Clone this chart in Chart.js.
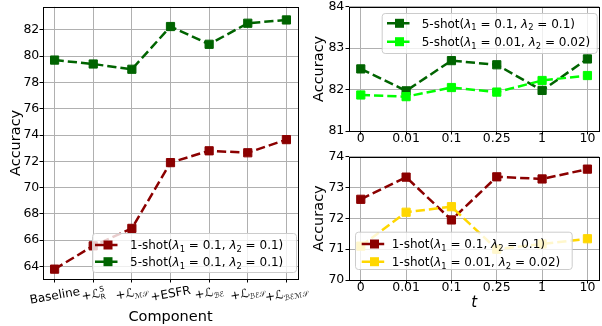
<!DOCTYPE html>
<html>
<head>
<meta charset="utf-8">
<script src="https://cdn.jsdelivr.net/npm/chart.js@4.4.1/dist/chart.umd.min.js"></script>
<style>
  html, body { margin: 0; padding: 0; background: #fff; overflow: hidden; width: 602px; height: 326px; }
  .panel { position: absolute; }
</style>
</head>
<body>
<div class="panel" style="left:0;top:0;width:320px;height:326px"><canvas id="leftChart" width="320" height="326"></canvas></div>
<div class="panel" style="left:300px;top:0;width:306px;height:150px"><canvas id="topChart" width="306" height="150"></canvas></div>
<div class="panel" style="left:300px;top:150px;width:306px;height:176px"><canvas id="bottomChart" width="306" height="176"></canvas></div>
<script>
// components (left panel)
const components = ['Baseline', '+ℒ_{R}^{S}', '+ℒ_{ℳ𝒮}', '+ESFR', '+ℒ_{ℬℰ}', '+ℒ_{ℬℰ𝒮}', '+ℒ_{ℬℰℳ𝒮}'];
const oneShot = [63.8, 65.57, 66.9, 71.9, 72.8, 72.65, 73.65];
const fiveShot = [79.7, 79.4, 79.0, 82.25, 80.9, 82.5, 82.75];

// temperature t (right panels)
const tLabels = ['0', '0.01', '0.1', '0.25', '1', '10'];
const fiveShotA = [82.5, 81.97, 82.7, 82.6, 81.98, 82.74];
const fiveShotB = [81.87, 81.83, 82.05, 81.94, 82.22, 82.34];
const oneShotA = [72.62, 73.34, 71.95, 73.35, 73.28, 73.6];
const oneShotB = [71.1, 72.2, 72.38, 71.0, 71.17, 71.34];

const seriesNames = {
  oneShot: '1-shot(λ1 = 0.1, λ2 = 0.1)',
  fiveShot: '5-shot(λ1 = 0.1, λ2 = 0.1)',
  fiveShotA: '5-shot(λ1 = 0.1, λ2 = 0.1)',
  fiveShotB: '5-shot(λ1 = 0.01, λ2 = 0.02)',
  oneShotA: '1-shot(λ1 = 0.1, λ2 = 0.1)',
  oneShotB: '1-shot(λ1 = 0.01, λ2 = 0.02)'
};

const DARKRED = '#8b0000', DARKGREEN = '#006400', LIME = '#00ff00', GOLD = '#ffd700';

Chart.defaults.font.family = '"DejaVu Sans"';
Chart.defaults.color = '#000';

// --- small rich-text helper: λ italic, _{..} subscript, ^{..} superscript
function parseRich(str, size, sub) {
  const segs = [];
  let plain = '';
  const flush = () => { if (plain) { segs.push({t: plain, size, dy: 0}); plain = ''; } };
  for (let i = 0; i < str.length;) {
    const c = str[i];
    if ((c === '_' || c === '^') && str[i + 1] === '{') {
      flush();
      const j = str.indexOf('}', i);
      segs.push({t: str.slice(i + 2, j), size: size * sub, dy: c === '_' ? size * 0.2 : -size * 0.45, kind: c});
      i = j + 1;
    } else if (c === 'λ') {
      flush();
      segs.push({t: c, size, dy: 0, italic: true});
      i++;
      if (/[0-9]/.test(str[i] || '')) { segs.push({t: str[i], size: size * sub, dy: size * 0.2, kind: '_'}); i++; }
    } else { plain += c; i++; }
  }
  flush();
  return segs;
}
const fontOf = s => (s.italic ? 'italic ' : '') + s.size + 'px "DejaVu Sans"';

function layoutRich(ctx, str, size, sub) {
  const segs = parseRich(str, size, sub || 0.7);
  let x = 0, subEnd = 0, asc = 0, desc = 0;
  segs.forEach((s, k) => {
    ctx.font = fontOf(s);
    const m = ctx.measureText(s.t);
    if (s.kind === '^' && k > 0 && segs[k - 1].kind === '_') {
      s.x = segs[k - 1].x;
      x = Math.max(subEnd, s.x + m.width);
    } else {
      s.x = x;
      x += m.width;
    }
    if (s.kind === '_') subEnd = s.x + m.width;
    asc = Math.max(asc, m.actualBoundingBoxAscent - s.dy);
    desc = Math.max(desc, m.actualBoundingBoxDescent + s.dy);
  });
  return {segs, width: x, asc, desc};
}

function drawRich(ctx, lay, x, y) {
  lay.segs.forEach(s => {
    ctx.font = fontOf(s);
    ctx.fillText(s.t, x + s.x, y + s.dy);
  });
}

// frame around the plot area (spines)
const framePlugin = {
  id: 'frame',
  afterDatasetsDraw(chart) {
    const {ctx, chartArea: a} = chart;
    ctx.save();
    ctx.strokeStyle = '#000';
    ctx.lineWidth = 1;
    ctx.strokeRect(Math.round(a.left) + 0.5, Math.round(a.top) + 0.5, Math.round(a.right - a.left), Math.round(a.bottom - a.top));
    ctx.restore();
  }
};

// legend drawn inside the plot area
const boxLegendPlugin = {
  id: 'boxLegend',
  afterDraw(chart, args, o) {
    if (!o.items) return;
    const {ctx} = chart;
    ctx.save();
    ctx.beginPath();
    ctx.roundRect(o.box[0] + 0.5, o.box[1] + 0.5, o.box[2], o.box[3], 3);
    ctx.fillStyle = 'rgba(255,255,255,0.8)';
    ctx.fill();
    ctx.strokeStyle = '#cccccc';
    ctx.lineWidth = 1;
    ctx.stroke();
    o.items.forEach((it, k) => {
      const y = o.rows[k];
      ctx.beginPath();
      ctx.setLineDash([9.25, 4]);
      ctx.strokeStyle = it.color;
      ctx.lineWidth = 2.5;
      ctx.moveTo(o.handle[0], y);
      ctx.lineTo(o.handle[1], y);
      ctx.stroke();
      ctx.setLineDash([]);
      const mx = (o.handle[0] + o.handle[1]) / 2;
      ctx.fillStyle = it.color;
      ctx.fillRect(mx - 4.5, y - 4.5, 9, 9);
      ctx.fillStyle = '#000';
      ctx.textBaseline = 'alphabetic';
      ctx.textAlign = 'left';
      const lay = layoutRich(ctx, it.label, 12);
      drawRich(ctx, lay, o.textX, y + 12 * 0.37);
    });
    ctx.restore();
  }
};

// rotated math tick labels for the left panel
const richXLabelPlugin = {
  id: 'richXLabels',
  afterDraw(chart, args, o) {
    if (!o.labels) return;
    const {ctx} = chart;
    const sc = chart.scales.x;
    const th = o.rotation * Math.PI / 180;
    ctx.save();
    ctx.fillStyle = '#000';
    ctx.textBaseline = 'alphabetic';
    ctx.textAlign = 'left';
    o.labels.forEach((lab, i) => {
      const lay = layoutRich(ctx, lab, o.size, 0.62);
      const h = lay.asc + lay.desc;
      const hRot = lay.width * Math.sin(th) + h * Math.cos(th);
      const cx = sc.getPixelForValue(i);
      const cy = o.top + hRot / 2;
      ctx.save();
      ctx.translate(cx, cy);
      ctx.rotate(-th);
      drawRich(ctx, lay, -lay.width / 2, -h / 2 + lay.asc);
      ctx.restore();
    });
    ctx.restore();
  }
};

function lineDs(values, color) {
  return {
    data: values.map((v, i) => ({x: i, y: v})),
    borderColor: color,
    backgroundColor: color,
    borderWidth: 2.5,
    borderDash: [9.25, 4],
    pointStyle: 'rect',
    pointRadius: 5.8,
    pointBorderWidth: 1,
    pointBorderColor: color,
    pointBackgroundColor: color,
    tension: 0,
    fill: false
  };
}

function yScale(min, max, step, width, titlePad, tickPad) {
  return {
    type: 'linear', min, max,
    border: {display: false},
    grid: {color: '#b0b0b0', lineWidth: 1, tickColor: '#000', tickLength: 3.5},
    ticks: {stepSize: step, includeBounds: false, padding: tickPad, font: {size: 12.5}},
    title: {display: true, text: 'Accuracy', font: {size: 14.5}, padding: {top: titlePad, bottom: titlePad}},
    afterFit: s => { s.width = width; s.paddingTop = 0; s.paddingBottom = 0; }
  };
}

function xScale(min, max, height, extra) {
  return Object.assign({
    type: 'linear', min, max,
    border: {display: false},
    grid: {color: '#b0b0b0', lineWidth: 1, tickColor: '#000', tickLength: 3.5},
    afterFit: s => { s.height = height; s.paddingLeft = 0; s.paddingRight = 0; }
  }, extra);
}

const baseOptions = {
  responsive: false,
  animation: false,
  devicePixelRatio: 1,
  events: []
};

// left panel: component ablation
new Chart(document.getElementById('leftChart'), {
  type: 'line',
  data: {datasets: [lineDs(fiveShot, DARKGREEN), lineDs(oneShot, DARKRED)]},
  options: Object.assign({}, baseOptions, {
    layout: {padding: {top: 6, right: 22, left: 0, bottom: 0}},
    scales: {
      x: xScale(-0.3, 6.3, 47, {
        ticks: {stepSize: 1, includeBounds: false, display: false},
        title: {display: true, text: 'Component', font: {size: 14.5}, padding: {top: 0.3, bottom: 0.3}}
      }),
      y: yScale(63.05, 83.75, 2, 43, 7.8, 0.2)
    },
    plugins: {
      legend: {display: false},
      tooltip: {enabled: false},
      richXLabels: {labels: components, rotation: 10, size: 12, top: 285},
      boxLegend: {
        box: [92, 233, 204, 39], rows: [245, 261.7], handle: [95, 121], textX: 130,
        items: [{label: seriesNames.oneShot, color: DARKRED}, {label: seriesNames.fiveShot, color: DARKGREEN}]
      }
    }
  }),
  plugins: [framePlugin, richXLabelPlugin, boxLegendPlugin]
});

// right top: 5-shot vs t
new Chart(document.getElementById('topChart'), {
  type: 'line',
  data: {datasets: [lineDs(fiveShotB, LIME), lineDs(fiveShotA, DARKGREEN)]},
  options: Object.assign({}, baseOptions, {
    layout: {padding: {top: 6, right: 1.3, left: 0, bottom: 0}},
    scales: {
      x: xScale(-0.26, 5.26, 19, {
        ticks: {stepSize: 1, includeBounds: false, padding: -3.5, font: {size: 12.5}, callback: v => tLabels[v] ?? ''}
      }),
      y: yScale(81, 84, 1, 49, 10.8, 1.2)
    },
    plugins: {
      legend: {display: false},
      tooltip: {enabled: false},
      boxLegend: {
        box: [81.7, 13, 215, 40], rows: [23.3, 41.7], handle: [87, 112], textX: 121.7,
        items: [{label: seriesNames.fiveShotA, color: DARKGREEN}, {label: seriesNames.fiveShotB, color: LIME}]
      }
    }
  }),
  plugins: [framePlugin, boxLegendPlugin]
});

// right bottom: 1-shot vs t
new Chart(document.getElementById('bottomChart'), {
  type: 'line',
  data: {datasets: [lineDs(oneShotB, GOLD), lineDs(oneShotA, DARKRED)]},
  options: Object.assign({}, baseOptions, {
    layout: {padding: {top: 5.3, right: 1.3, left: 0, bottom: 0}},
    scales: {
      x: xScale(-0.26, 5.26, 46, {
        ticks: {stepSize: 1, includeBounds: false, padding: -3.5, font: {size: 12.5}, callback: v => tLabels[v] ?? ''},
        title: {display: true, text: 't', font: {size: 15, style: 'italic'}, padding: {top: 14.3, bottom: 14.3}}
      }),
      y: yScale(70, 74, 1, 49, 10.8, 1.2)
    },
    plugins: {
      legend: {display: false},
      tooltip: {enabled: false},
      boxLegend: {
        box: [55, 81.7, 216.7, 37.3], rows: [94, 111.7], handle: [61.7, 87.3], textX: 91.7,
        items: [{label: seriesNames.oneShotA, color: DARKRED}, {label: seriesNames.oneShotB, color: GOLD}]
      }
    }
  }),
  plugins: [framePlugin, boxLegendPlugin]
});
</script>
</body>
</html>
